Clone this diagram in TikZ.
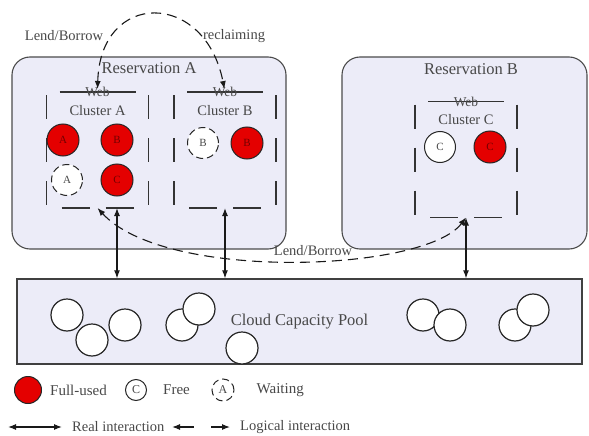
\documentclass[tikz,border=0pt]{standalone}
\usepackage{fontspec}
\setmainfont{Liberation Serif}
\usetikzlibrary{positioning,arrows.meta}
\definecolor{lav}{RGB}{236,236,248}
\definecolor{fullred}{RGB}{228,0,0}
\definecolor{txt}{RGB}{72,72,72}

\begin{document}
\begin{tikzpicture}
  [x=1pt,y=-1pt,
   every node/.style={text=txt,inner sep=1pt,font=\fontsize{15}{17}\selectfont},
   resbox/.style={draw=black!70,fill=lav,line width=1.1pt,rounded corners=18pt},
   poolbox/.style={draw=black!75,fill=lav,line width=1.4pt},
   clus/.style={minimum width=102pt,minimum height=116pt,outer sep=0pt},
   topedge/.style={line width=1.6pt,draw=black!80,shorten <=13pt,shorten >=13pt},
   sideedge/.style={line width=1.4pt,draw=black!80,shorten <=3pt,shorten >=3pt,dash pattern=on 24pt off 19pt},
   botedge/.style={line width=1.6pt,draw=black!80,shorten <=15pt,shorten >=15pt,dash pattern=on 28pt off 16pt},
   free/.style={circle,draw=black!85,fill=white,line width=1pt,minimum size=31pt,inner sep=0pt,font=\fontsize{11}{11}\selectfont},
   full/.style={free,fill=fullred,minimum size=32pt,text=red!45!black},
   wait/.style={free,dash pattern=on 7pt off 4pt},
   real/.style={{Latex[length=8pt,width=6pt]}-{Latex[length=8pt,width=6pt]},line width=1.1pt,draw=black!90},
   logic/.style={real,dash pattern=on 10pt off 6pt}]
  \useasboundingbox (0,0) rectangle (589,436);

  % reservations and pool
  \node[resbox,minimum width=274pt,minimum height=192pt] (ra) at (149,153) {};
  \node[resbox,minimum width=245pt,minimum height=192pt] (rb) at (464.5,153) {};
  \node[font=\fontsize{16.5}{18}\selectfont] (tra) at (149,68) {Reservation A};
  \node[font=\fontsize{16.5}{18}\selectfont] (trb) at (471,69) {Reservation B};
  \node[poolbox,minimum width=565pt,minimum height=85pt] (pool) at (299.5,321.5) {};
  \node[font=\fontsize{16.5}{18}\selectfont] (tpool) at (pool) {Cloud Capacity Pool};

  % web clusters
  \node[clus] (ca) at (97.5,150) {};
  \node[clus] (cb) at (225,150) {};
  \node[clus] (cc) at (466,159.5) {};
  \foreach \c/\n in {ca/A,cb/B,cc/C} {
    \draw[topedge] (\c.north west) -- (\c.north east);
    \draw[sideedge] (\c.north west) -- (\c.south west);
    \draw[sideedge] (\c.north east) -- (\c.south east);
    \draw[botedge] (\c.south west) -- (\c.south east);
    \node[font=\fontsize{13.5}{15}\selectfont] (w\c) at (\c.north) {Web};
    \node[font=\fontsize{14.5}{16}\selectfont,below=6pt of w\c] (t\c) {Cluster \n};
  }

  \node[full] (a1) at (63,140) {A};
  \node[full] (a2) at (117,140) {B};
  \node[wait] (a3) at (67,180) {A};
  \node[full] (a4) at (117,180) {C};
  \node[wait] (b1) at (203,143) {B};
  \node[full] (b2) at (247,143) {B};
  \node[free] (c1) at (440,147) {C};
  \node[full] (c2) at (490,147) {C};

  % free capacity
  \foreach \px/\py [count=\i] in {67/315,92/340,125/325,182/325,199/309,242/348,423/315,450/325,515/325,533/310}
    \node[free,minimum size=32pt,line width=1.2pt] (p\i) at (\px,\py) {};

  % interactions
  \draw[real] (a4 |- ca.south) -- (a4 |- pool.north);
  \draw[real] (cb.south) -- (cb.south |- pool.north);
  \draw[real] (cc.south) -- (cc.south |- pool.north);
  \draw[logic,shorten <=3pt,shorten >=3pt] (ca.north) .. controls (100,-10) and (205,-10) .. (cb.north);
  \draw[logic] (ca.south) .. controls (165,282) and (425,272) .. (cc.south);
  \node[font=\fontsize{14.5}{16}\selectfont] (lb1) at (64,36) {Lend/Borrow};
  \node[font=\fontsize{14.5}{16}\selectfont] (rcl) at (234,36) {reclaiming};
  \node[font=\fontsize{14.5}{16}\selectfont] (lb2) at (313,251) {Lend/Borrow};

  % legend
  \node[full,minimum size=27pt] (lfull) at (28,390) {};
  \node[right=7pt of lfull] (tfull) {Full-used};
  \node[free,minimum size=21pt,font=\fontsize{12}{12}\selectfont] (lfree) at (136,390) {C};
  \node[right=15pt of lfree] (tfree) {Free};
  \node[wait,minimum size=22pt,font=\fontsize{12}{12}\selectfont] (lwait) at (223,390) {A};
  \node[right=21pt of lwait] (twait) {Waiting};
  \coordinate (r1) at (8,427);
  \coordinate (r2) at (62,427);
  \coordinate (l1) at (172,427);
  \coordinate (l2) at (230,427);
  \draw[real] (r1) -- (r2);
  \draw[real,dash pattern=on 15pt off 17pt] (l1) -- (l2);
  \node[right=9pt of r2,font=\fontsize{14.5}{16}\selectfont] (treal) {Real interaction};
  \node[right=9pt of l2,font=\fontsize{14.5}{16}\selectfont] (tlog) {Logical interaction};

\end{tikzpicture}
\end{document}
